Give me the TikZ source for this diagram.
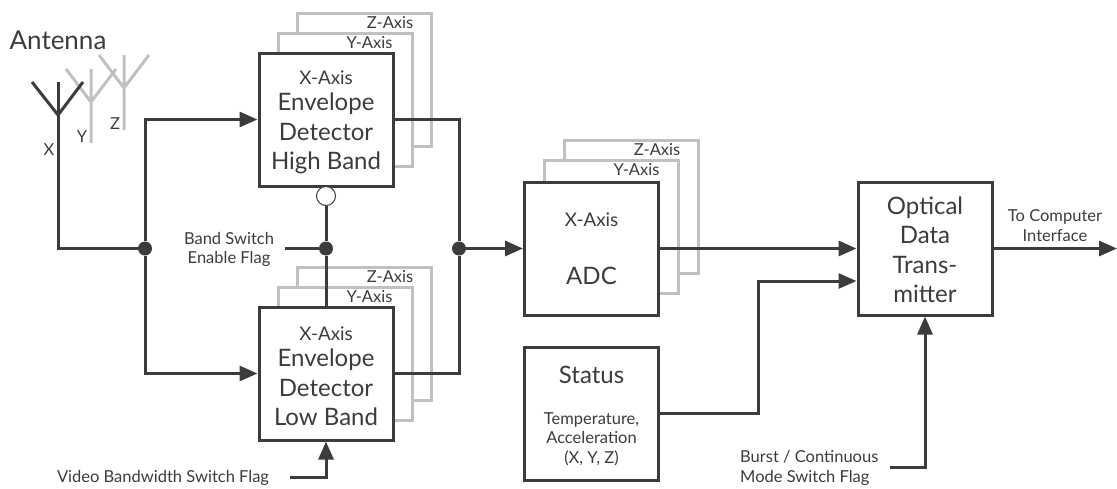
\documentclass[tikz,border=0pt]{standalone}
\usepackage{fontspec}
\setmainfont{Lato}
\usepackage{xcolor}
\usetikzlibrary{arrows.meta, positioning}
\definecolor{darkline}{HTML}{3C3C3C}
\definecolor{paleline}{HTML}{C0C0C0}
\tikzset{
  mainbox/.style={draw=darkline, fill=white, line width=3pt, text=darkline, align=center,
    inner sep=0pt, minimum width=134pt, minimum height=133pt, font=\fontsize{24}{29.5}\selectfont},
  backbox/.style={draw=paleline, fill=white, line width=3pt, inner sep=0pt,
    minimum width=134pt, minimum height=133pt},
  wire/.style={draw=darkline, line width=3pt},
  arrowwire/.style={wire, -{Triangle[length=18pt,width=15pt]}},
  dot/.style={circle, fill=darkline, inner sep=0pt, minimum size=14pt},
  openbubble/.style={circle, draw=darkline, fill=white, line width=1pt, inner sep=0pt, minimum size=19pt},
  bigtext/.style={text=darkline, font=\fontsize{26}{30}\selectfont},
  smalltext/.style={text=darkline, align=center, inner sep=0pt, font=\fontsize{16.5}{19.5}\selectfont},
}
\newcommand{\axistext}[1]{{\fontsize{18.8}{20}\selectfont #1}}
\newcommand{\notetext}[1]{{\fontsize{16.5}{19.5}\selectfont #1}}
\newcommand{\topgap}[1]{\rule{0pt}{#1}}
\begin{document}
\begin{tikzpicture}[x=1pt, y=-1pt]
\useasboundingbox (0,0) rectangle (1117,488);
  % Antennas, pale ones first
  \foreach \ax/\ay/\ab in {124/55/130, 91/69/143}
    \draw[wire, draw=paleline] (\ax-25,\ay) -- (\ax,\ay+33) -- (\ax+25,\ay)
      (\ax,\ay) -- (\ax,\ab);
  \draw[wire] (32,82) -- (58,115) -- (83,82);
  \node[bigtext] (antennatitle) at (58,40) {Antenna};
  \node[smalltext] (xname) at (49,150) {X};
  \node[smalltext] (yname) at (82,137) {Y};
  \node[smalltext] (zname) at (115,124) {Z};
  % Back cards of the three stacks
  \foreach \name/\zcx/\zcy/\ycx/\ycy/\zlx/\zly/\ylx/\yly in {
      high/364.5/79.5/345/99.5/390/23/369.5/43,
      low/364.5/333.5/345/353.5/390/277/369.5/297,
      adc/631/206.5/611.5/226.5/657/150/636.5/170}{
    \node[backbox] (\name zcard) at (\zcx,\zcy) {};
    \node[backbox] (\name ycard) at (\ycx,\ycy) {};
    \node[smalltext] (\name zlabel) at (\zlx,\zly) {Z-Axis};
    \node[smalltext] (\name ylabel) at (\ylx,\yly) {Y-Axis};
  }
  % Main blocks
  \node[mainbox] (high) at (326,119.5)
    {\topgap{19pt}\axistext{X-Axis}\\[-3pt]Envelope\\Detector\\High Band};
  \node[mainbox] (low) at (326,373.5)
    {\topgap{19pt}\axistext{X-Axis}\\[-3pt]Envelope\\Detector\\Low Band};
  \node[mainbox] (adc) at (591.5,248.5)
    {\axistext{X-Axis}\\[28pt]ADC};
  \node[mainbox] (status) at (591.5,413.5)
    {\topgap{22pt}Status\\[11pt]\notetext{Temperature,}\\[-10pt]\notetext{Acceleration}\\[-10pt]\notetext{(X, Y, Z)}};
  \node[mainbox] (optical) at (925,248.5)
    {\topgap{20pt}Optical\\Data\\Trans-\\mitter};
  % Junctions and free ends
  \node[dot] (jinput) at (145,248.5) {};
  \node[dot] (jband) at (326,248.5) {};
  \node[dot] (jdetect) at (459,248.5) {};
  \node[openbubble] (bubble) at (326,196) {};
  \coordinate (xtop) at (58,82);
  \coordinate (xfoot) at (58,248.5);
  \coordinate (bandstub) at (285,248.5);
  \coordinate (videostub) at (290,477);
  \coordinate (burststub) at (890,467);
  \coordinate (statusbend) at (758,413.5);
  \coordinate (statusin) at (856.5,281);
  \coordinate (outend) at (1117,248.5);
  % Connectors
  \draw[wire] (xtop) -- (xfoot) -- (jinput);
  \draw[arrowwire] (jinput) |- (high.west);
  \draw[arrowwire] (jinput) |- (low.west);
  \draw[wire] (high.east) -| (jdetect);
  \draw[wire] (low.east) -| (jdetect);
  \draw[arrowwire] (jdetect) -- (adc.west);
  \draw[arrowwire] (adc.east) -- (optical.west);
  \draw[wire] (bubble) -- (jband) -- (jband |- low.north);
  \draw[wire] (bandstub) -- (jband);
  \draw[arrowwire] (videostub) -| (jband |- low.south);
  \draw[arrowwire] (status.east) -- (statusbend) |- (statusin);
  \draw[arrowwire] (burststub) -| (optical.south);
  \draw[arrowwire] (optical.east) -- (outend);
  % Labels on the wires
  \node[smalltext] (bandflag) at (229,249.5) {Band Switch\\Enable Flag};
  \node[smalltext] (videoflag) at (163,478) {Video Bandwidth Switch Flag};
  \node[smalltext, align=left, anchor=west] (burstflag) at (740,468) {Burst / Continuous\\Mode Switch Flag};
  \node[smalltext] (outlabel) at (1055,225.5) {To Computer\\Interface};
\end{tikzpicture}
\end{document}
